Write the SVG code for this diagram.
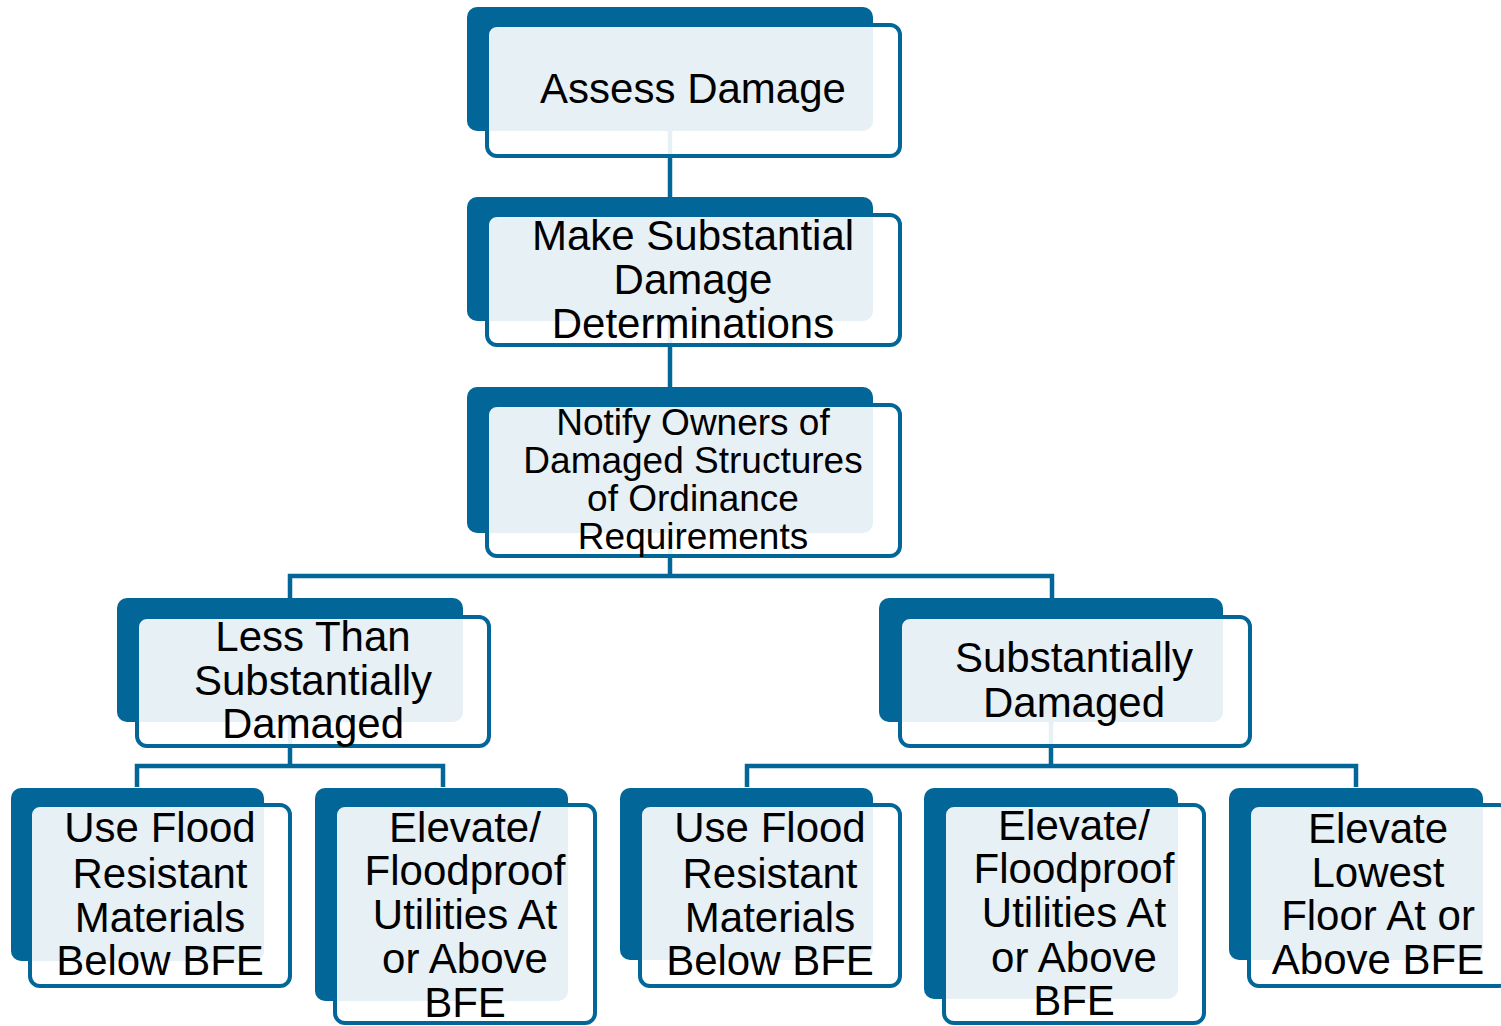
<svg xmlns="http://www.w3.org/2000/svg" width="1501" height="1026" viewBox="0 0 1501 1026">
<style>
.back{fill:#036699}
.front{fill:#ffffff;fill-opacity:0.9;stroke:#036699;stroke-width:4}
.conn{fill:none;stroke:#036699;stroke-width:4.5}
text{font-family:"Liberation Sans",Arial,sans-serif;font-size:42px;fill:#000;text-anchor:middle}
.small{font-size:37px}
</style>
<rect width="1501" height="1026" fill="#ffffff"/>
<g id="connectors" class="conn">
<path d="M670,131 V197"/>
<path d="M670,321 V387"/>
<path d="M670,533 V576"/>
<path d="M290,598 V576 H1052 V598"/>
<path d="M290,722 V766"/>
<path d="M137,787 V766 H443 V787"/>
<path d="M1051,722 V766"/>
<path d="M747,787 V766 H1356 V787"/>
</g>
<g id="n1">
<rect class="back" x="467" y="7" width="406" height="124" rx="10"/>
<rect class="front" x="487" y="25" width="413" height="131" rx="10"/>
<text x="693" y="103">Assess Damage</text>
</g>
<g id="n2">
<rect class="back" x="467" y="197" width="406" height="124" rx="10"/>
<rect class="front" x="487" y="215" width="413" height="130" rx="10"/>
<text x="693" y="250">Make Substantial</text>
<text x="693" y="294">Damage</text>
<text x="693" y="338">Determinations</text>
</g>
<g id="n3">
<rect class="back" x="467" y="387" width="406" height="146" rx="10"/>
<rect class="front" x="487" y="405" width="413" height="151" rx="10"/>
<text class="small" x="693" y="435">Notify Owners of</text>
<text class="small" x="693" y="473">Damaged Structures</text>
<text class="small" x="693" y="511">of Ordinance</text>
<text class="small" x="693" y="549">Requirements</text>
</g>
<g id="n4">
<rect class="back" x="117" y="598" width="346" height="124" rx="10"/>
<rect class="front" x="137" y="617" width="352" height="129" rx="10"/>
<text x="313" y="651">Less Than</text>
<text x="313" y="695">Substantially</text>
<text x="313" y="738">Damaged</text>
</g>
<g id="n5">
<rect class="back" x="879" y="598" width="344" height="124" rx="10"/>
<rect class="front" x="900" y="617" width="350" height="129" rx="10"/>
<text x="1074" y="672">Substantially</text>
<text x="1074" y="717">Damaged</text>
</g>
<g id="n6">
<rect class="back" x="11" y="788" width="253" height="173" rx="10"/>
<rect class="front" x="30" y="805" width="260" height="181" rx="10"/>
<text x="160" y="842">Use Flood</text>
<text x="160" y="888">Resistant</text>
<text x="160" y="932">Materials</text>
<text x="160" y="975">Below BFE</text>
</g>
<g id="n7">
<rect class="back" x="315" y="788" width="253" height="213" rx="10"/>
<rect class="front" x="335" y="805" width="260" height="218" rx="10"/>
<text x="465" y="842">Elevate/</text>
<text x="465" y="885">Floodproof</text>
<text x="465" y="929">Utilities At</text>
<text x="465" y="973">or Above</text>
<text x="465" y="1017">BFE</text>
</g>
<g id="n8">
<rect class="back" x="620" y="788" width="253" height="172" rx="10"/>
<rect class="front" x="640" y="805" width="260" height="181" rx="10"/>
<text x="770" y="842">Use Flood</text>
<text x="770" y="888">Resistant</text>
<text x="770" y="932">Materials</text>
<text x="770" y="975">Below BFE</text>
</g>
<g id="n9">
<rect class="back" x="924" y="788" width="254" height="211" rx="10"/>
<rect class="front" x="944" y="805" width="260" height="218" rx="10"/>
<text x="1074" y="840">Elevate/</text>
<text x="1074" y="883">Floodproof</text>
<text x="1074" y="927">Utilities At</text>
<text x="1074" y="972">or Above</text>
<text x="1074" y="1015">BFE</text>
</g>
<g id="n10">
<rect class="back" x="1229" y="788" width="254" height="172" rx="10"/>
<rect class="front" x="1249" y="805" width="260" height="181" rx="10"/>
<text x="1378" y="843">Elevate</text>
<text x="1378" y="887">Lowest</text>
<text x="1378" y="930">Floor At or</text>
<text x="1378" y="974">Above BFE</text>
</g>
</svg>
